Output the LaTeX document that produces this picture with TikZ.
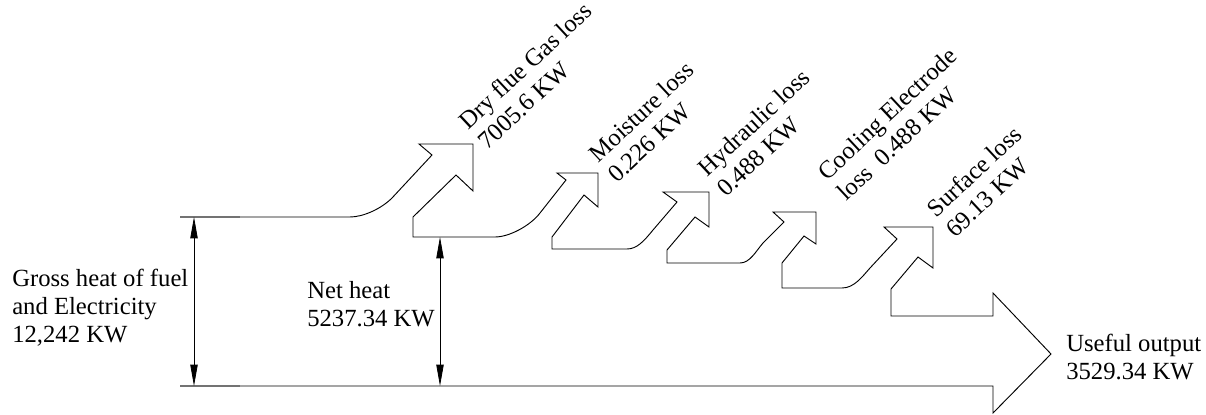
\documentclass[tikz,border=0pt]{standalone}
\usepackage{fontspec}
\setmainfont{Liberation Serif}
\usetikzlibrary{arrows.meta}
\begin{document}
\begin{tikzpicture}[x=0.75pt,y=-0.75pt,
  flow/.style={draw=black, line width=0.7pt, line join=miter},
  dimline/.style={draw=black, line width=0.6pt,
    {Triangle[length=16pt,width=5.5pt]}-{Triangle[length=16pt,width=5.5pt]}},
  extline/.style={draw=black!55, line width=1.5pt},
  lbl/.style={font=\fontsize{18.5}{21}\selectfont, align=left, inner sep=0pt, anchor=base west},
  rlbl/.style={lbl, rotate=43}]
\useasboundingbox (0,0) rectangle (1206,414);

% flow outline
\draw[flow] (180,217) -- (350,217)
  .. controls (363,217) and (381,209) .. (392,198)
  -- (432,155) -- (419,144) -- (473,144) -- (473,191) -- (456,175)
  -- (413,217) -- (413,237) -- (495,237)
  .. controls (509,237) and (530,226) .. (540,213)
  -- (566,180) -- (557,173) -- (598,173) -- (598,207) -- (584,195)
  -- (552,237) -- (552,249) -- (627,249)
  .. controls (637,249) and (644,241) .. (653,230)
  -- (677,202) -- (663,192) -- (709,192) -- (709,227) -- (695,217)
  -- (667,250) -- (667,263) -- (740,263)
  .. controls (750,263) and (756,251) .. (763,243)
  -- (784,222) -- (773,212) -- (816,212) -- (816,244) -- (804,236)
  -- (782,263) -- (782,288) -- (842,288)
  .. controls (854,288) and (862,277) .. (870,268)
  -- (897,239) -- (884,227) -- (933,227) -- (933,268) -- (918,257)
  -- (891,289) -- (891,316) -- (993,316) -- (993,293) -- (1051,354)
  -- (993,413) -- (993,386) -- (180,386);

% extension marks
\draw[extline] (180,217) -- (240,217);
\draw[extline] (180,386) -- (240,386);

% dimension arrows
\coordinate (g1) at (194,217);
\coordinate (g2) at (194,386);
\coordinate (n1) at (440,237);
\coordinate (n2) at (440,386);
\draw[dimline] (g1) -- (g2);
\draw[dimline] (n1) -- (n2);

% labels (anchor = baseline start of the last line)
\node[lbl] (gross) at (12,342) {Gross heat of fuel\\and Electricity\\12,242 KW};
\node[lbl] (net) at (307,326) {Net heat\\5237.34 KW};
\node[lbl] (useful) at (1066,379) {Useful output\\3529.34 KW};

\node[rlbl] (dry) at (487,151) {Dry flue Gas loss\\7005.6 KW};
\node[rlbl] (moist) at (617,184) {Moisture loss\\0.226 KW};
\node[rlbl] (hyd) at (726,198) {Hydraulic loss\\0.488 KW};
\node[rlbl] (cool) at (846,202) {Cooling Electrode\\loss\ \ 0.488 KW};
\node[rlbl] (surf) at (955,239) {Surface loss\\69.13 KW};
\end{tikzpicture}
\end{document}
